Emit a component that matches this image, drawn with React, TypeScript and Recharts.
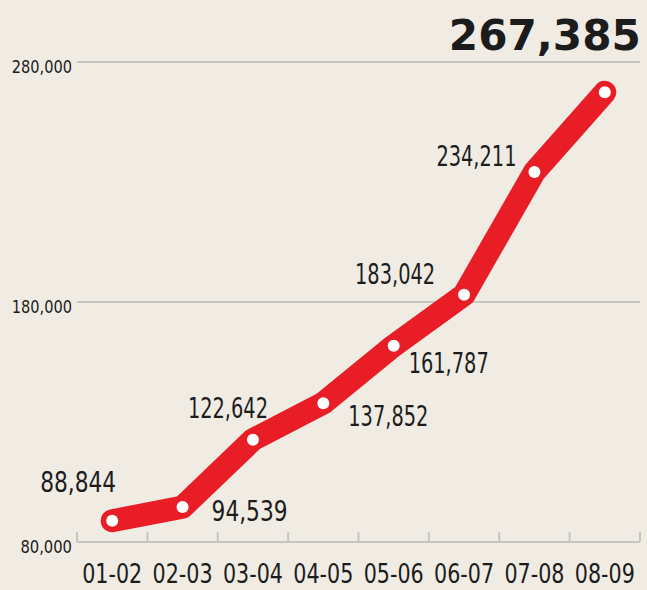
import React from "react";
import {
  LineChart,
  Line,
  XAxis,
  YAxis,
  CartesianGrid,
  LabelList,
} from "recharts";

const years = ["01-02", "02-03", "03-04", "04-05", "05-06", "06-07", "07-08", "08-09"];
const totals = [88844, 94539, 122642, 137852, 161787, 183042, 234211, 267385];
const yTicks = [80000, 180000, 280000];

// label placement around each point (dx, dy of label centre)
const labelOffsets = [
  [-34, -38],
  [67, 4],
  [-25, -31],
  [65, 13],
  [55, 18],
  [-69, -20],
  [-58, -15],
  [-60, -57],
];

const data = years.map((year, i) => ({ year, total: totals[i] }));

const W = 647;
const H = 590;
const LEFT = 77;
const RIGHT = 7;
const BAND = (W - LEFT - RIGHT) / years.length;
const FONT = "'DejaVu Sans Condensed', 'DejaVu Sans', sans-serif";
const GREY = "#c8c5be";
const INK = "#1c1c1c";

const fmt = (v: number) => v.toLocaleString("en-US");

const XTick = (props: any) => {
  const { x, y, payload, index } = props;
  const left = x - BAND / 2;
  return (
    <g>
      <line x1={left} x2={left} y1={y} y2={y - 10} stroke={GREY} strokeWidth={2} />
      {index === years.length - 1 && (
        <line x1={x + BAND / 2} x2={x + BAND / 2} y1={y} y2={y - 10} stroke={GREY} strokeWidth={2} />
      )}
      <text
        x={x}
        y={y + 41}
        textAnchor="middle"
        fontFamily={FONT}
        fontSize={26}
        textLength={60}
        lengthAdjust="spacingAndGlyphs"
        fill={INK}
      >
        {payload.value}
      </text>
    </g>
  );
};

const YTick = (props: any) => {
  const { x, y, payload } = props;
  const s = fmt(payload.value);
  return (
    <text
      x={x}
      y={y + 4}
      textAnchor="end"
      dominantBaseline="central"
      fontFamily={FONT}
      fontSize={18}
      textLength={s.length * 8.6}
      lengthAdjust="spacingAndGlyphs"
      fill={INK}
    >
      {s}
    </text>
  );
};

const PointLabel = (props: any) => {
  const { x, y, value, index } = props;
  const [dx, dy] = labelOffsets[index];
  const last = index === totals.length - 1;
  const s = fmt(value);
  return (
    <text
      x={x + dx}
      y={y + dy}
      textAnchor="middle"
      dominantBaseline="central"
      fontFamily={last ? "'DejaVu Sans', sans-serif" : FONT}
      fontWeight={last ? 700 : 400}
      fontSize={last ? 43 : 28}
      textLength={last ? 192 : s.length === 7 ? 80 : 76}
      lengthAdjust="spacingAndGlyphs"
      fill={INK}
    >
      {s}
    </text>
  );
};

export default function App() {
  return (
    <div style={{ position: "fixed", left: 0, top: 0, width: W, height: H, background: "#f0ece4" }}>
      <LineChart width={W} height={H} data={data} margin={{ top: 62, right: RIGHT, left: 0, bottom: 0 }}>
        <CartesianGrid horizontal vertical={false} stroke={GREY} strokeWidth={2} />
        <XAxis
          dataKey="year"
          scale="band"
          height={48}
          axisLine={{ stroke: GREY, strokeWidth: 2 }}
          tickLine={false}
          tickSize={0}
          tickMargin={0}
          interval={0}
          tick={<XTick />}
        />
        <YAxis
          width={LEFT}
          domain={[80000, 280000]}
          ticks={yTicks}
          axisLine={false}
          tickLine={false}
          tickSize={0}
          tickMargin={5}
          tick={<YTick />}
        />
        <Line
          type="linear"
          dataKey="total"
          stroke="#e81d25"
          strokeWidth={23}
          strokeLinecap="round"
          strokeLinejoin="round"
          dot={{ r: 6, fill: "#ffffff", stroke: "none" }}
          activeDot={false}
          isAnimationActive={false}
        >
          <LabelList dataKey="total" content={<PointLabel />} />
        </Line>
      </LineChart>
    </div>
  );
}
